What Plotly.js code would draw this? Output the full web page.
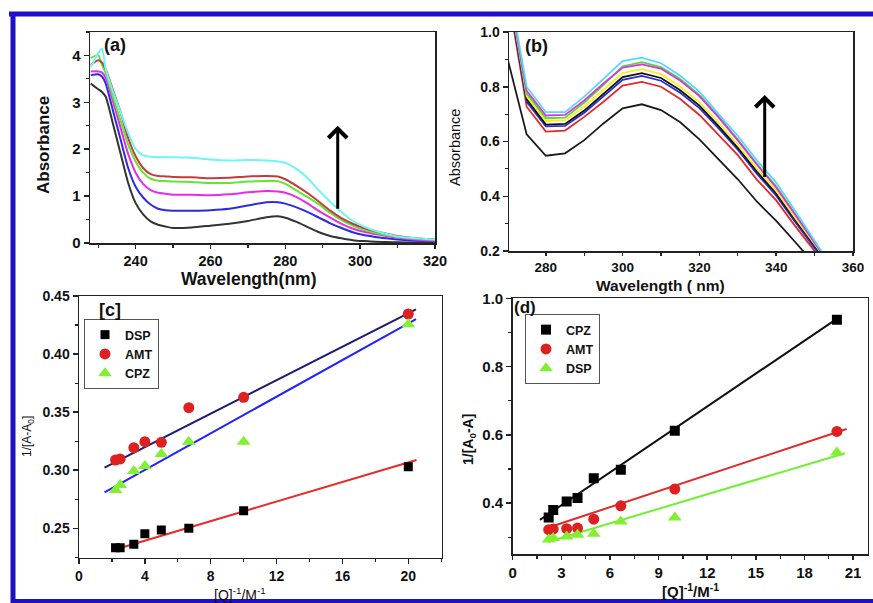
<!DOCTYPE html>
<html><head><meta charset="utf-8">
<script src="https://cdn.plot.ly/plotly-3.0.1.min.js"></script>
<style>html,body{margin:0;padding:0;background:#fff}#chart{width:873px;height:603px}</style>
</head><body><div id="chart"></div>
<script>
// ---- Panel (a): absorbance spectra ----
const aWave = [228,230,231,232,234,236,238,240,242,244,246,248,250,255,260,265,270,275,278,280,283,286,289,292,295,298,301,304,307,310,315,320];
const aBlack = [3.40,3.28,3.22,3.12,2.52,1.90,1.28,0.85,0.61,0.46,0.39,0.35,0.32,0.33,0.37,0.41,0.47,0.55,0.57,0.54,0.45,0.34,0.23,0.15,0.10,0.06,0.04,0.025,0.02,0.015,0.01,0.01];
const aBlue = [3.58,3.60,3.55,3.40,2.80,2.20,1.60,1.20,0.97,0.82,0.73,0.70,0.69,0.69,0.70,0.73,0.80,0.87,0.87,0.84,0.76,0.66,0.54,0.42,0.32,0.23,0.17,0.13,0.10,0.075,0.05,0.04];
const aMagenta = [3.66,3.66,3.64,3.52,3.00,2.45,1.90,1.50,1.26,1.13,1.07,1.05,1.03,1.03,1.02,1.04,1.08,1.11,1.10,1.07,0.98,0.84,0.68,0.54,0.41,0.31,0.24,0.19,0.15,0.11,0.07,0.05];
const aGreen = [3.95,4.00,3.80,3.62,3.10,2.60,2.10,1.74,1.50,1.37,1.33,1.32,1.31,1.30,1.28,1.28,1.31,1.32,1.32,1.26,1.12,0.98,0.82,0.64,0.49,0.37,0.28,0.22,0.17,0.13,0.09,0.07];
const aRed = [3.80,3.90,3.85,3.70,3.25,2.78,2.24,1.85,1.60,1.47,1.43,1.42,1.41,1.40,1.38,1.39,1.42,1.43,1.42,1.36,1.22,1.06,0.88,0.69,0.53,0.41,0.32,0.25,0.20,0.15,0.10,0.07];
const aCyan = [3.75,4.05,4.15,3.70,3.22,2.78,2.35,2.00,1.87,1.84,1.83,1.83,1.83,1.82,1.78,1.76,1.77,1.76,1.74,1.71,1.58,1.38,1.12,0.88,0.66,0.47,0.35,0.26,0.19,0.14,0.10,0.07];

// ---- Panel (b): absorbance spectra ----
const bWave = [270,275,280,285,290,295,300,305,310,315,320,325,330,335,340,345,350,355];
const bBlack1 = [0.904,0.626,0.548,0.557,0.605,0.666,0.721,0.736,0.715,0.670,0.608,0.535,0.462,0.380,0.310,0.232,0.155,0.07];
const bRed = [1.15,0.727,0.636,0.640,0.690,0.745,0.804,0.818,0.800,0.755,0.697,0.625,0.550,0.460,0.385,0.290,0.200,0.12];
const bBlue = [1.16,0.745,0.655,0.657,0.705,0.765,0.825,0.840,0.822,0.778,0.722,0.648,0.570,0.482,0.402,0.305,0.210,0.125];
const bBlack2 = [1.17,0.755,0.662,0.664,0.713,0.775,0.835,0.850,0.832,0.787,0.731,0.656,0.577,0.490,0.410,0.312,0.215,0.127];
const bYellow = [1.18,0.765,0.675,0.677,0.727,0.790,0.850,0.864,0.846,0.800,0.744,0.668,0.588,0.500,0.420,0.320,0.221,0.13];
const bGreen = [1.19,0.775,0.685,0.687,0.742,0.806,0.875,0.890,0.872,0.828,0.770,0.692,0.607,0.518,0.436,0.335,0.230,0.13];
const bMagenta = [1.19,0.785,0.695,0.697,0.750,0.812,0.870,0.882,0.866,0.823,0.766,0.688,0.604,0.515,0.432,0.332,0.228,0.13];
const bCyan = [1.20,0.800,0.707,0.707,0.764,0.830,0.894,0.906,0.886,0.840,0.782,0.700,0.620,0.530,0.450,0.345,0.235,0.13];

// ---- Panel (c) ----
const cQ = [2.22,2.5,3.33,4,5,6.67,10,20];
const cDSP = [0.2333,0.2333,0.2362,0.2454,0.2486,0.2500,0.2652,0.3030];
const cAMT = [0.3088,0.3097,0.3194,0.3246,0.3240,0.3539,0.3628,0.4345];
const cCPZ = [0.2830,0.2873,0.2994,0.3037,0.3140,0.3246,0.3246,0.4256];
const cFitX = [1.55,20.47];
const cFitDSPx = [2.1,20.5];
const cFitDSP = [0.2314,0.3088];
const cFitAMT = [0.3022,0.4385];
const cFitCPZ = [0.2810,0.4300];

// ---- Panel (d) ----
const dQ = [2.22,2.5,3.33,4,5,6.67,10,20];
const dCPZ = [0.358,0.380,0.405,0.415,0.473,0.498,0.612,0.937];
const dAMT = [0.322,0.324,0.325,0.327,0.353,0.392,0.441,0.610];
const dDSP = [0.293,0.298,0.302,0.307,0.310,0.346,0.358,0.548];
const dFitCPZx = [1.68,19.9];
const dFitCPZ = [0.351,0.937];
const dFitAMTx = [2.3,20.6];
const dFitAMT = [0.330,0.617];
const dFitDSPx = [2.2,20.5];
const dFitDSP = [0.287,0.546];

const FONT = 'Liberation Sans, Arial, sans-serif';
const traces = [];
function line(x,y,color,xa,ya,w,shape){
  traces.push({x:x,y:y,type:'scatter',mode:'lines',line:{color:color,width:w||2,shape:shape||'linear',smoothing:0.6},xaxis:xa,yaxis:ya,showlegend:false,hoverinfo:'skip'});
}
// (a)
[[aBlack,'#333333'],[aBlue,'#2b2be6'],[aMagenta,'#e82be8'],[aGreen,'#5ee832'],[aRed,'#c83a3a'],[aCyan,'#6ef5f5']].forEach(p=>line(aWave,p[0],p[1],'x','y',2,'spline'));
// (b)
[[bBlack1,'#1a1a1a'],[bRed,'#e02a2a'],[bBlue,'#2a2ae0'],[bBlack2,'#111111'],[bYellow,'#f5f020'],[bGreen,'#4ee030'],[bMagenta,'#e030e0'],[bCyan,'#55d8ff']].forEach(p=>line(bWave,p[0],p[1],'x2','y2',1.8,'linear'));
// (c) fits
line(cFitDSPx,cFitDSP,'#e82a2a','x3','y3',2);
line(cFitX,cFitAMT,'#1c1c6e','x3','y3',2);
line(cFitX,cFitCPZ,'#2222ff','x3','y3',2);
// (c) markers
traces.push({x:cQ,y:cDSP,name:'DSP',type:'scatter',mode:'markers',marker:{symbol:'square',size:9,color:'#000'},xaxis:'x3',yaxis:'y3',legend:'legend'});
traces.push({x:cQ,y:cAMT,name:'AMT',type:'scatter',mode:'markers',marker:{symbol:'circle',size:11,color:'#dd2020'},xaxis:'x3',yaxis:'y3',legend:'legend'});
traces.push({x:cQ,y:cCPZ,name:'CPZ',type:'scatter',mode:'markers',marker:{symbol:'triangle-up',size:12,color:'#80f030'},xaxis:'x3',yaxis:'y3',legend:'legend'});
// (d) fits
line(dFitCPZx,dFitCPZ,'#111111','x4','y4',2);
line(dFitAMTx,dFitAMT,'#e02a2a','x4','y4',2);
line(dFitDSPx,dFitDSP,'#70f030','x4','y4',2);
traces.push({x:dQ,y:dCPZ,name:'CPZ',type:'scatter',mode:'markers',marker:{symbol:'square',size:10,color:'#000'},xaxis:'x4',yaxis:'y4',legend:'legend2'});
traces.push({x:dQ,y:dAMT,name:'AMT',type:'scatter',mode:'markers',marker:{symbol:'circle',size:11,color:'#dd2020'},xaxis:'x4',yaxis:'y4',legend:'legend2'});
traces.push({x:dQ,y:dDSP,name:'DSP',type:'scatter',mode:'markers',marker:{symbol:'triangle-up',size:12,color:'#80f030'},xaxis:'x4',yaxis:'y4',legend:'legend2'});

function ax(domain, range, dtick, minor, anchor, fmt, tick0, fs, tl){
  const o = {domain:domain, range:range, dtick:dtick, anchor:anchor, showgrid:false, zeroline:false,
    showline:true, linecolor:'#222', linewidth:1.5, mirror:true, ticks:'outside', ticklen:tl||5, tickwidth:1.5, tickcolor:'#222',
    tickfont:{family:FONT,size:fs||14,color:'#111',weight:700}, tickprefix:'<b>', ticksuffix:'</b>',
    minor:{ticks:'outside',ticklen:3,tickwidth:1.2,tickcolor:'#222',dtick:minor}, fixedrange:true};
  if(fmt) o.tickformat = fmt;
  if(tick0!==undefined) o.tick0 = tick0;
  return o;
}

const pW=873, pH=603;
const px = v=>v/pW, py = v=>1-v/pH;
function note(x,y,text,size,bold,angle){
  return {xref:'paper',yref:'paper',x:px(x),y:py(y),xanchor:'center',yanchor:'middle',text:text,textangle:angle||0,
    showarrow:false,font:{family:FONT,size:size,color:'#111',weight:bold?700:400}};
}

const legFont = {family:FONT,size:12.5,color:'#111',weight:700};
const layout = {
  width:873, height:603, margin:{l:0,r:0,t:0,b:0}, paper_bgcolor:'#fff', plot_bgcolor:'#fff',
  font:{family:FONT,color:'#111'},
  xaxis: ax([px(90),px(435)],[227.8,320],20,10,'y','',240,14.5,4),
  yaxis: ax([py(243),py(32)],[0,4.5],1,0.5,'x','',0,15),
  xaxis2: ax([px(509),px(853)],[270.4,360],20,10,'y2','',280,13.5,3),
  yaxis2: ax([py(251),py(32)],[0.2,1.0],0.2,0.1,'x2','.1f',0.2,14),
  xaxis3: ax([px(79),px(441.7)],[0,22.03],4,2,'y3','',0,14),
  yaxis3: ax([py(557.7),py(296)],[0.2247,0.45],0.05,0.025,'x3','.2f',0.25,14),
  xaxis4: ax([px(512.7),px(867.7)],[0,21.9],3,1.5,'y4','',0,15,4),
  yaxis4: ax([py(554.3),py(298.3)],[0.25,1.0],0.2,0.1,'x4','.1f',0.2,15),
  legend:{x:px(84),y:py(319),xanchor:'left',yanchor:'top',bgcolor:'#fff',bordercolor:'#555',borderwidth:1,
    font:legFont,tracegroupgap:0,itemwidth:30},
  legend2:{x:px(525),y:py(314),xanchor:'left',yanchor:'top',bgcolor:'#fff',bordercolor:'#555',borderwidth:1,
    font:legFont,tracegroupgap:0,itemwidth:30},
  shapes:[
    {type:'line',xref:'paper',yref:'paper',x0:px(9),x1:1,y0:py(14),y1:py(14),line:{color:'#1e10c4',width:5}},
    {type:'line',xref:'paper',yref:'paper',x0:px(13),x1:px(13),y0:py(12),y1:0,line:{color:'#1e10c4',width:5}},
    {type:'line',xref:'paper',yref:'paper',x0:px(11),x1:1,y0:py(601),y1:py(601),line:{color:'#1e10c4',width:4}}
  ],
  annotations:[
    note(43,145,'Absorbance',17,true,-90),
    note(248,279,'Wavelength(nm)',17.5,true),
    note(455,148,'Absorbance',14.5,false,-90),
    note(660,285,'Wavelength ( nm)',15.5,true),
    note(28,436,'1/[A-A<sub>0</sub>]',12,false,-90),
    note(240,594,'[Q]<sup>-1</sup>/M<sup>-1</sup>',14,false),
    note(469,440,'1/[A<sub>0</sub>-A]',14,true,-90),
    note(690,590,'[Q]<sup>-1</sup>/M<sup>-1</sup>',15,true),
    note(114.5,45,'(a)',18,true),
    note(536.5,45.5,'(b)',18,true),
    note(109.5,309.5,'[c]',18,true),
    note(525,307,'(d)',17,true),
    {xref:'x',yref:'y',axref:'x',ayref:'y',x:294,y:2.5,ax:294,ay:0.7,text:'',showarrow:true,arrowhead:4,arrowsize:1.2,arrowwidth:3,arrowcolor:'#000'},
    {xref:'x2',yref:'y2',axref:'x2',ayref:'y2',x:337,y:0.77,ax:337,ay:0.465,text:'',showarrow:true,arrowhead:4,arrowsize:1.2,arrowwidth:3,arrowcolor:'#000'}
  ]
};
Plotly.newPlot('chart', traces, layout, {staticPlot:true, displayModeBar:false});
</script></body></html>
